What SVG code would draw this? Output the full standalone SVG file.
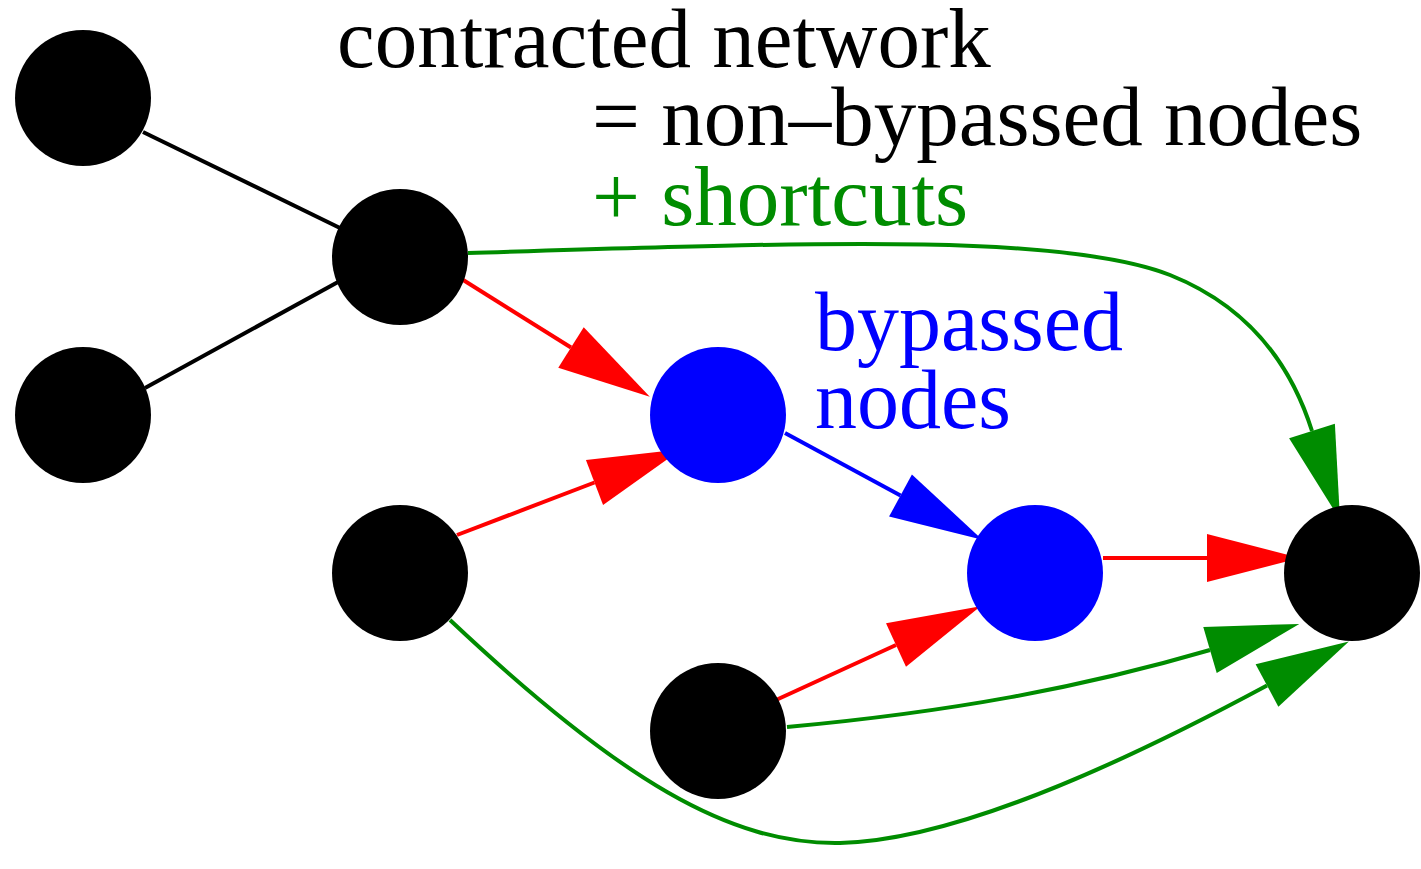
<svg xmlns="http://www.w3.org/2000/svg" width="1421" height="869" viewBox="0 0 1421 869">
<style>
.e{fill:none;stroke-width:4}
.k{stroke:#000}
.r{stroke:#ff0000}
.b{stroke:#0000ff}
.g{stroke:#008c00}
.n{fill:#000}
.bn{fill:#0000ff}
text{font-family:"Liberation Serif","Times New Roman",serif;font-size:84px}
.big{font-size:85px}
</style>
<defs>
<marker id="ar" markerUnits="userSpaceOnUse" markerWidth="94" markerHeight="48" refX="0" refY="24" orient="auto" overflow="visible"><path d="M0,0 L93,24 L0,48 z" fill="#ff0000"/></marker>
<marker id="ab" markerUnits="userSpaceOnUse" markerWidth="94" markerHeight="48" refX="0" refY="24" orient="auto" overflow="visible"><path d="M0,0 L93,24 L0,48 z" fill="#0000ff"/></marker>
<marker id="ag" markerUnits="userSpaceOnUse" markerWidth="94" markerHeight="48" refX="0" refY="24" orient="auto" overflow="visible"><path d="M0,0 L93,24 L0,48 z" fill="#008c00"/></marker>
</defs>
<rect width="1421" height="869" fill="#fff"/>
<g id="connectors">
<path class="e k" d="M143,132 L340,228"/>
<path class="e k" d="M145,388 L338,282"/>
<path class="e r" d="M460,278 L571,347.5" marker-end="url(#ar)"/>
<path class="e r" d="M457,535 L594.5,482.5" marker-end="url(#ar)"/>
<path class="e b" d="M785,433 L900.5,495.5" marker-end="url(#ab)"/>
<path class="e r" d="M776,700 L896,645" marker-end="url(#ar)"/>
<path class="e r" d="M1103,558 L1207,558" marker-end="url(#ar)"/>
<path class="e g" d="M468,253 C800,243 1060,232 1170,275 C1240,303 1288,355 1312,431" marker-end="url(#ag)"/>
<path class="e g" d="M787,727 C950,712 1080,688 1210,650" marker-end="url(#ag)"/>
<path class="e g" d="M450,620 C620,780 730,845 840,843 C950,841 1110,770 1267,685.5" marker-end="url(#ag)"/>
</g>
<g id="nodeA"><circle class="n" cx="83" cy="98" r="68"/></g>
<g id="nodeB"><circle class="n" cx="83" cy="415" r="68"/></g>
<g id="nodeC"><circle class="n" cx="400" cy="257" r="68"/></g>
<g id="nodeD"><circle class="n" cx="400" cy="573" r="68"/></g>
<g id="nodeE"><circle class="bn" cx="718" cy="415" r="68"/></g>
<g id="nodeF"><circle class="bn" cx="1035" cy="573" r="68"/></g>
<g id="nodeG"><circle class="n" cx="718" cy="731" r="68"/></g>
<g id="nodeH"><circle class="n" cx="1352" cy="573" r="68"/></g>
<g id="labels">
<text class="big" x="337" y="67" fill="#000">contracted network</text>
<text class="big" x="592" y="145" fill="#000">= non–bypassed nodes</text>
<text class="big" x="592" y="225" fill="#008c00">+ shortcuts</text>
<text x="815" y="350" fill="#0000ff">bypassed</text>
<text x="815" y="428" fill="#0000ff">nodes</text>
</g>
</svg>
